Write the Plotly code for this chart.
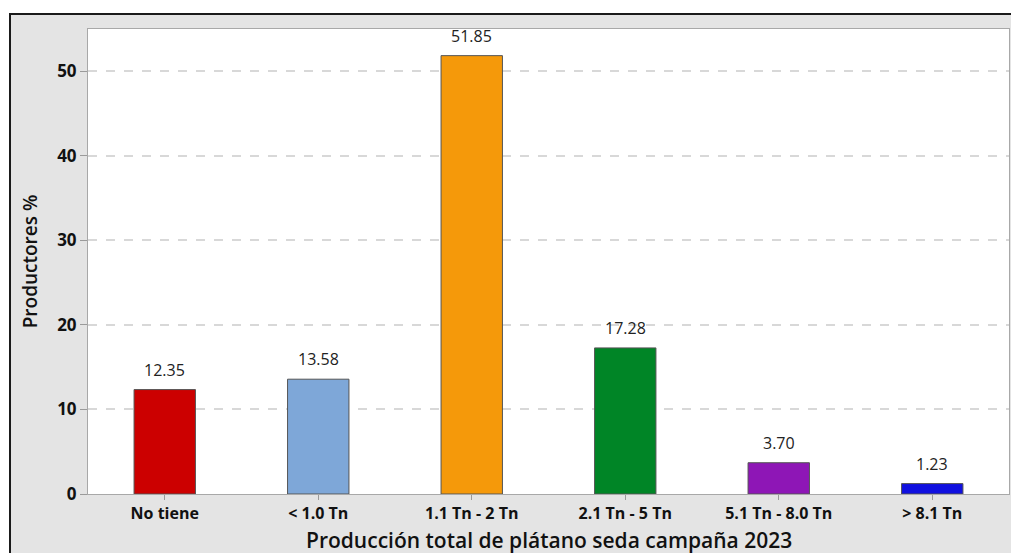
import plotly.graph_objects as go

categories = ["No tiene", "< 1.0 Tn", "1.1 Tn - 2 Tn", "2.1 Tn - 5 Tn", "5.1 Tn - 8.0 Tn", "> 8.1 Tn"]
values = [12.35, 13.58, 51.85, 17.28, 3.70, 1.23]
colors = ["#cc0000", "#7ea7d8", "#f5990a", "#008526", "#8e16b6", "#1010e0"]
y_ticks = [0, 10, 20, 30, 40, 50]
x_title = "Producción total de plátano seda campaña 2023"
y_title = "Productores %"

W, H = 1011, 553
L, R, T, B = 88, 2, 29, 59
pw, ph = W - L - R, H - T - B

def px_to_paper_x(px):
    return (px - L) / pw

def px_to_paper_y(py):
    return (H - B - py) / ph

FONT = "Open Sans"

fig = go.Figure()
fig.add_trace(go.Bar(
    x=categories, y=values, width=0.4,
    marker=dict(color=colors, line=dict(color="#555555", width=1)),
    hoverinfo="skip",
))

for c, v in zip(categories, values):
    fig.add_annotation(x=c, y=v, text=f"{v:.2f}", showarrow=False, yanchor="bottom",
                       yshift=7, font=dict(family=FONT, size=16, color="#222222"))

# x axis title placed as annotation
fig.add_annotation(x=0.5, y=px_to_paper_y(540), xref="paper", yref="paper", text=x_title,
                   showarrow=False, xanchor="center", yanchor="middle",
                   font=dict(size=21, family=FONT, weight=600, color="#111111"))

# outer grey frame with black border
fig.add_shape(type="rect", xref="paper", yref="paper",
              x0=px_to_paper_x(10), x1=px_to_paper_x(1030),
              y0=px_to_paper_y(580), y1=px_to_paper_y(14),
              fillcolor="#e4e4e4", line=dict(color="#1a1a1a", width=2), layer="below")
# white plotting area
fig.add_shape(type="rect", xref="paper", yref="paper", x0=0, x1=1, y0=0, y1=1,
              fillcolor="white", line=dict(width=0), layer="below")

fig.update_layout(
    width=W, height=H,
    margin=dict(l=L, r=R, t=T, b=B),
    paper_bgcolor="white", plot_bgcolor="white",
    showlegend=False,
    font=dict(family=FONT, color="#111111"),
    xaxis=dict(
        range=[-0.5, 5.5], showgrid=False, ticks="outside", ticklen=5, tickcolor="#9a9a9a",
        showline=True, linecolor="#a8a8a8", linewidth=1, mirror=True,
        tickfont=dict(size=16, family=FONT, weight=700, color="#111111"),
    ),
    yaxis=dict(
        range=[0, 55], tickvals=y_ticks, ticks="outside", ticklen=7, tickcolor="#9a9a9a",
        showline=True, linecolor="#a8a8a8", linewidth=1, mirror=True,
        showgrid=True, gridcolor="#d8d8d8", griddash="dash", gridwidth=1.5,
        zeroline=False,
        tickfont=dict(size=17, family=FONT, weight=700, color="#111111"),
        title=dict(text=y_title, font=dict(size=19, family=FONT, weight=600, color="#111111"), standoff=14),
    ),
)

fig.write_html("out.html", config={"displayModeBar": False},
               post_script="document.body.style.margin='0';document.body.style.overflow='hidden';")
